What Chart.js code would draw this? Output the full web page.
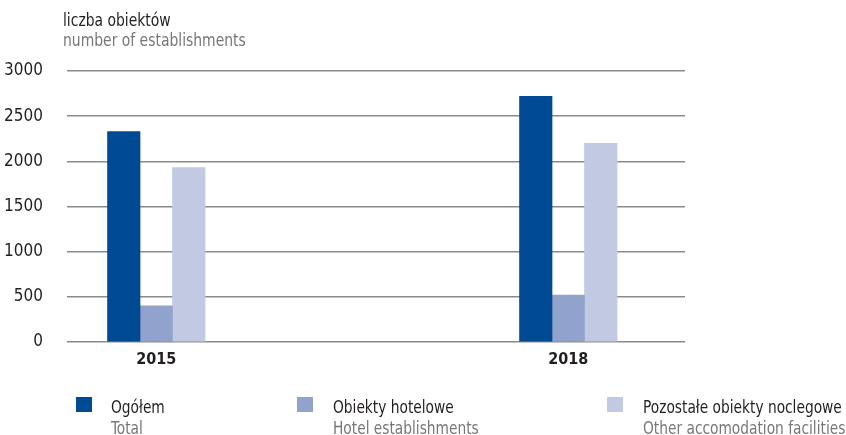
<!DOCTYPE html>
<html>
<head>
<meta charset="utf-8">
<script src="https://cdn.jsdelivr.net/npm/chart.js@4.4.1/dist/chart.umd.min.js"></script>
<style>
body{margin:0;background:#fff;font-family:"DejaVu Sans",sans-serif;font-stretch:condensed;}
#wrap{position:relative;width:846px;height:435px;overflow:hidden;}
#c{position:absolute;left:0;top:0;}
.pl{color:#231f20;}
.en{color:#76777a;}
.sx{transform-origin:0 0;white-space:nowrap;}
#title{position:absolute;left:63px;top:10px;font-size:18px;line-height:20px;transform:scaleX(0.86);}
.leg{position:absolute;top:397px;font-size:17px;line-height:21px;white-space:nowrap;}
.sq{position:absolute;top:0;width:16px;height:15px;}
.lt{transform:scaleX(0.9);}
</style>
</head>
<body>
<div id="wrap">
<canvas id="c" width="846" height="435"></canvas>
<div id="title" class="sx"><div class="pl">liczba obiektów</div><div class="en">number of establishments</div></div>
<div id="legend"></div>
</div>
<script>

const years = [2015, 2018];
const total = [2330, 2720];
const hotel = [400, 520];
const other = [1930, 2200];
const yTicks = [0, 500, 1000, 1500, 2000, 2500, 3000];

const namesPl = ["Ogółem", "Obiekty hotelowe", "Pozostałe obiekty noclegowe"];
const namesEn = ["Total", "Hotel establishments", "Other accomodation facilities"];
const colors = ["#004a93", "#91a3cc", "#c1c9e3"];

const legendX = [76, 297, 607];

const font = '"DejaVu Sans",sans-serif';

function points(values){
return years.map((y,i)=>({x:y, y:values[i]}));
}

const series = [total, hotel, other];

new Chart(document.getElementById("c"),{

type:"bar",

data:{
datasets:series.map((s,i)=>({
label:namesPl[i],
data:points(s),
backgroundColor:colors[i],
barThickness:32.5
}))
},

options:{
responsive:false,
animation:false,
layout:{padding:{top:71, right:161, bottom:0, left:0}},
plugins:{
legend:{display:false},
tooltip:{enabled:false}
},
scales:{
x:{
type:"linear",
offset:false,
min:2014.35,
max:2018.85,
grid:{display:false},
border:{display:false},
afterBuildTicks:(scale)=>{ scale.ticks = years.map(v=>({value:v})); },
afterFit:(scale)=>{ scale.height = 93; },
ticks:{
color:"#231f20",
padding:0,
font:{family:font, size:16, weight:"bold condensed"},
callback:(v)=>String(v)
}
},
y:{
min:0,
max:3000,
afterBuildTicks:(scale)=>{ scale.ticks = yTicks.map(v=>({value:v})); },
afterFit:(scale)=>{ scale.width = 67; },
grid:{color:"#8a8a8a", lineWidth:1.5, drawTicks:false},
border:{display:false},
ticks:{
color:"#231f20",
padding:24,
font:{family:font, size:17, weight:"condensed"},
callback:(v)=>String(v)
}
}
}
}

});

const legend = document.getElementById("legend");
namesPl.forEach((n,i)=>{
const d = document.createElement("div");
d.className = "leg";
d.style.left = legendX[i] + "px";
d.innerHTML = '<span class="sq" style="background:'+colors[i]+'"></span>'
+ '<div class="sx lt" style="margin-left:'+(i==0?35:36)+'px"><div class="pl">'+n+'</div><div class="en">'+namesEn[i]+'</div></div>';
legend.appendChild(d);
});

</script>
</body>
</html>
